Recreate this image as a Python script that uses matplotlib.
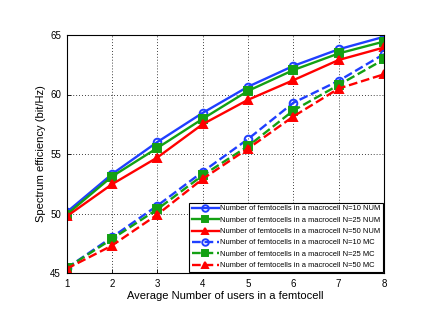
import matplotlib
matplotlib.use("Agg")
import matplotlib.pyplot as plt

plt.rcParams['font.family'] = ['Liberation Sans', 'DejaVu Sans']

users = [1, 2, 3, 4, 5, 6, 7, 8]
num_n10 = [50.1, 53.3, 56.0, 58.45, 60.65, 62.4, 63.8, 64.85]
num_n25 = [49.9, 53.1, 55.5, 57.95, 60.3, 62.05, 63.45, 64.45]
num_n50 = [49.75, 52.45, 54.7, 57.5, 59.55, 61.2, 62.9, 63.95]
mc_n10 = [45.4, 48.0, 50.65, 53.5, 56.25, 59.3, 61.15, 63.4]
mc_n25 = [45.4, 47.85, 50.35, 53.2, 55.65, 58.65, 60.8, 62.95]
mc_n50 = [45.35, 47.3, 49.9, 52.9, 55.45, 58.15, 60.5, 61.7]
labels = [
    "Number of femtocells in a macrocell N=10 NUM",
    "Number of femtocells in a macrocell N=25 NUM",
    "Number of femtocells in a macrocell N=50 NUM",
    "Number of femtocells in a macrocell N=10 MC",
    "Number of femtocells in a macrocell N=25 MC",
    "Number of femtocells in a macrocell N=50 MC",
]
xticks = [1, 2, 3, 4, 5, 6, 7, 8]
yticks = [45, 50, 55, 60, 65]

fig = plt.figure(figsize=(4.36, 3.19), dpi=100)
ax = fig.add_axes([66.5/436, 1 - 273/319, (384-66.5)/436, (273-35)/319])

series = [num_n10, num_n25, num_n50, mc_n10, mc_n25, mc_n50]
colors = ['#1f3fff', '#13a013', '#ff0000'] * 2
markers = ['o', 's', '^'] * 2
styles = ['-'] * 3 + ['--'] * 3
for s, c, m, ls, lab in zip(series, colors, markers, styles, labels):
    ax.plot(users, s, color=c, marker=m, linestyle=ls, linewidth=1.7,
            markersize=5.5, markerfacecolor='none' if m == 'o' else c,
            markeredgewidth=1.4, label=lab)

ax.set_xlim(1, 8)
ax.set_ylim(45, 65)
ax.set_xticks(xticks)
ax.set_yticks(yticks)
ax.tick_params(direction='in', labelsize=7, length=3, width=0.6, pad=4)
ax.grid(True, color='black', linestyle=(0, (1, 2.5)), linewidth=0.6)
for sp in ax.spines.values():
    sp.set_linewidth(0.8)
ax.set_xlabel("Average Number of users in a femtocell", fontsize=8, labelpad=2)
ax.set_ylabel("Spectrum efficiency (bit/Hz)", fontsize=8, labelpad=3)

leg = ax.legend(loc='lower right', fontsize=5.4, frameon=True, fancybox=False,
                edgecolor='black', framealpha=1, borderpad=0.3,
                labelspacing=0.55, handlelength=3.6, handletextpad=0.2,
                borderaxespad=0.2, markerscale=0.85)
leg.get_frame().set_linewidth(0.8)

fig.savefig("out.png", dpi=100)
